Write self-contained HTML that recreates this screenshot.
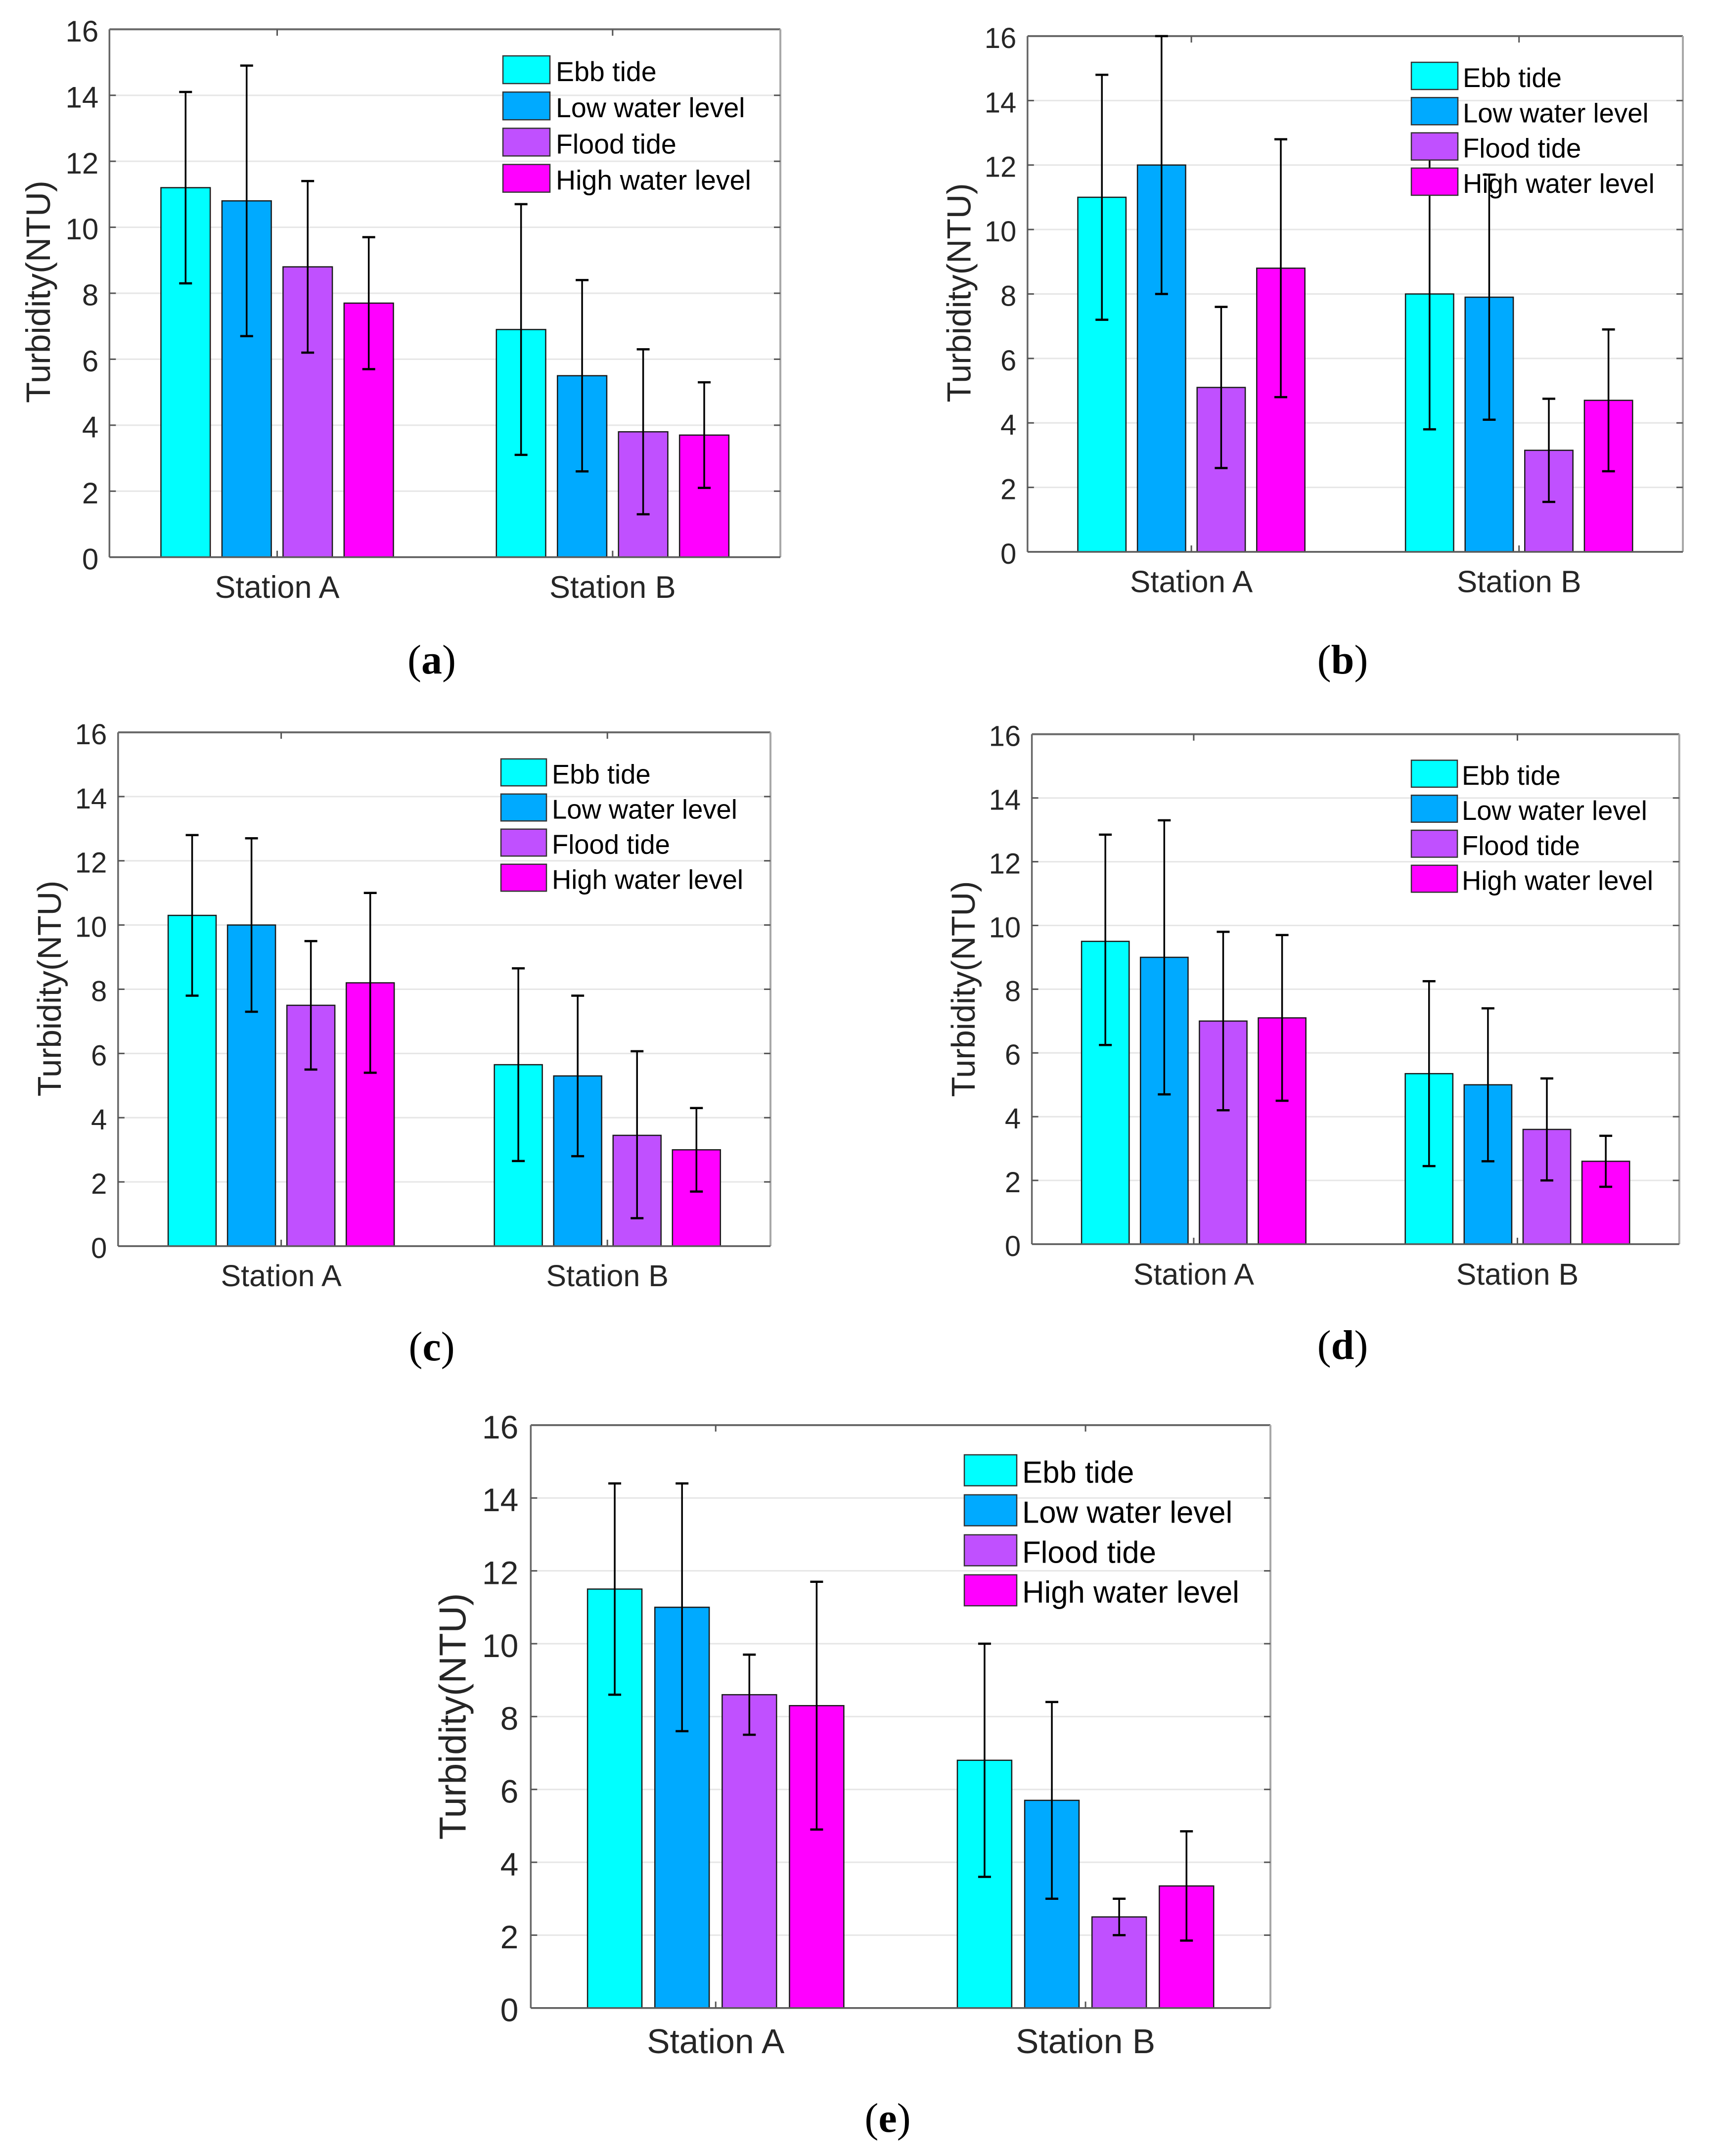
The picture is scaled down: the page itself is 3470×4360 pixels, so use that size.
<!DOCTYPE html>
<html lang="en">
<head>
<meta charset="utf-8">
<title>Turbidity by tidal phase at Station A and Station B</title>
<style>
html,body{margin:0;padding:0;background:#fff;}
#figure{display:block;width:3470px;height:4360px;background:#fff;}
text{font-family:"Liberation Sans",sans-serif;}
.cap{font-family:"Liberation Serif",serif;}
</style>
</head>
<body>
<svg id="figure" xmlns="http://www.w3.org/2000/svg" width="3470" height="4360" viewBox="0 0 3470 4360"></svg>
<script>
const categories = ['Station A', 'Station B'];
const seriesNames = ['Ebb tide', 'Low water level', 'Flood tide', 'High water level'];
const seriesColors = ['#00ffff', '#00aaff', '#c050ff', '#ff00ff'];
const yTickLabels = [0, 2, 4, 6, 8, 10, 12, 14, 16];
const yAxisTitle = 'Turbidity(NTU)';

const panelAMeans = [11.2, 10.8, 8.8, 7.7, 6.9, 5.5, 3.8, 3.7];
const panelALow = [8.3, 6.7, 6.2, 5.7, 3.1, 2.6, 1.3, 2.1];
const panelAHigh = [14.1, 14.9, 11.4, 9.7, 10.7, 8.4, 6.3, 5.3];

const panelBMeans = [11, 12, 5.1, 8.8, 8, 7.9, 3.15, 4.7];
const panelBLow = [7.2, 8, 2.6, 4.8, 3.8, 4.1, 1.55, 2.5];
const panelBHigh = [14.8, 16, 7.6, 12.8, 12.2, 11.7, 4.75, 6.9];

const panelCMeans = [10.3, 10, 7.5, 8.2, 5.65, 5.3, 3.45, 3];
const panelCLow = [7.8, 7.3, 5.5, 5.4, 2.65, 2.8, 0.87, 1.7];
const panelCHigh = [12.8, 12.7, 9.5, 11, 8.65, 7.8, 6.07, 4.3];

const panelDMeans = [9.5, 9, 7, 7.1, 5.35, 5, 3.6, 2.6];
const panelDLow = [6.25, 4.7, 4.2, 4.5, 2.45, 2.6, 2, 1.8];
const panelDHigh = [12.85, 13.3, 9.8, 9.7, 8.25, 7.4, 5.2, 3.4];

const panelEMeans = [11.5, 11, 8.6, 8.3, 6.8, 5.7, 2.5, 3.35];
const panelELow = [8.6, 7.6, 7.5, 4.9, 3.6, 3, 2, 1.85];
const panelEHigh = [14.4, 14.4, 9.7, 11.7, 10, 8.4, 3, 4.85];

const panels = [
  {id:'a', means:panelAMeans, low:panelALow, high:panelAHigh,
   left:221.3, right:1578, top:59.3, bottom:1126.7, tickFs:60, tickGap:22, catFs:63, titleFs:69, legFs:55.5,
   titleX:76, titleY:590, catY:1209,
   legX:1017, legW:95, legY:113, legH:56, legStep:73.2, legTextX:1124,
   capX:873, capY:1362},
  {id:'b', means:panelBMeans, low:panelBLow, high:panelBHigh,
   left:2077.8, right:3403, top:73, bottom:1116, tickFs:58, tickGap:22.5, catFs:62, titleFs:68, legFs:54.5,
   titleX:1938, titleY:592, catY:1197.5,
   legX:2854, legW:94, legY:126, legH:55, legStep:71.3, legTextX:2958,
   capX:2715, capY:1362},
  {id:'c', means:panelCMeans, low:panelCLow, high:panelCHigh,
   left:238.8, right:1558, top:1481, bottom:2520, tickFs:58, tickGap:22.5, catFs:61, titleFs:67, legFs:54.4,
   titleX:99, titleY:1999, catY:2601,
   legX:1013, legW:92, legY:1534.7, legH:54.5, legStep:71, legTextX:1116,
   capX:873, capY:2751},
  {id:'d', means:panelDMeans, low:panelDLow, high:panelDHigh,
   left:2086.6, right:3395.7, top:1484.8, bottom:2516, tickFs:58, tickGap:22.5, catFs:61, titleFs:67, legFs:54.4,
   titleX:1947, titleY:2000, catY:2598,
   legX:2854, legW:93, legY:1537.4, legH:54.5, legStep:70.8, legTextX:2956,
   capX:2715, capY:2748},
  {id:'e', means:panelEMeans, low:panelELow, high:panelEHigh,
   left:1073.3, right:2569, top:2882, bottom:4060.7, tickFs:66, tickGap:25, catFs:69.5, titleFs:76.5, legFs:61.7,
   titleX:914, titleY:3471, catY:4152,
   legX:1950, legW:106, legY:2942, legH:62.6, legStep:80.9, legTextX:2067,
   capX:1795, capY:4311}
];

const NS = 'http://www.w3.org/2000/svg';
const X_MIN = 0.5, X_MAX = 2.5, Y_MAX = 16;
const DODGE = 0.182, BAR_WIDTH = 0.147;

function mk(tag, attrs, parent) {
  const el = document.createElementNS(NS, tag);
  for (const k in attrs) el.setAttribute(k, attrs[k]);
  parent.appendChild(el);
  return el;
}
function xScale(p, v) { return p.left + (v - X_MIN) / (X_MAX - X_MIN) * (p.right - p.left); }
function yScale(p, v) { return p.bottom - v / Y_MAX * (p.bottom - p.top); }

const svg = document.getElementById('figure');

panels.forEach(function (p) {
  const g = mk('g', {}, svg);
  
  

  yTickLabels.forEach(function (t) {
    if (t === 0 || t === Y_MAX) return;
    const y = yScale(p, t);
    const grid = mk('line', {x1:p.left, x2:p.right, y1:y, y2:y, stroke:'#e6e6e6', 'stroke-width':3}, g);
    
    
  });

  const frameTop = mk('line', {x1:p.left, x2:p.right, y1:p.top, y2:p.top, stroke:'#6a6a6a', 'stroke-width':4}, g);
  
  
  const frameRight = mk('line', {x1:p.right, x2:p.right, y1:p.top, y2:p.bottom, stroke:'#a8a8a8', 'stroke-width':4}, g);
  
  
  const frameLeft = mk('line', {x1:p.left, x2:p.left, y1:p.top, y2:p.bottom, stroke:'#666666', 'stroke-width':3.5}, g);
  
  

  yTickLabels.forEach(function (t) {
    const y = yScale(p, t);
    if (t !== 0 && t !== Y_MAX) {
      const tl = mk('line', {x1:p.left, x2:p.left + 13, y1:y, y2:y, stroke:'#555', 'stroke-width':3}, g);
      
      
      const tr = mk('line', {x1:p.right - 13, x2:p.right, y1:y, y2:y, stroke:'#555', 'stroke-width':3}, g);
      
      
    }
    const label = mk('text', {x:p.left - p.tickGap, y:y + p.tickFs * 0.36 + 3, 'text-anchor':'end', 'font-size':p.tickFs, fill:'#262626'}, g);
    
    
    label.textContent = t;
  });

  categories.forEach(function (c, gi) {
    const x = xScale(p, gi + 1);
    const tt = mk('line', {x1:x, x2:x, y1:p.top, y2:p.top + 13, stroke:'#555', 'stroke-width':3}, g);
    
    
    const tb = mk('line', {x1:x, x2:x, y1:p.bottom - 13, y2:p.bottom, stroke:'#555', 'stroke-width':3}, g);
    
    
    const cat = mk('text', {x:x, y:p.catY, 'text-anchor':'middle', 'font-size':p.catFs, fill:'#262626'}, g);
    
    
    cat.textContent = c;
  });

  p.means.forEach(function (m, i) {
    const gi = Math.floor(i / 4), si = i % 4;
    const cx = xScale(p, gi + 1 + (si - 1.5) * DODGE);
    const hw = (xScale(p, 2) - xScale(p, 1)) * BAR_WIDTH / 2;
    const bar = mk('rect', {x:cx - hw, y:yScale(p, m), width:hw * 2, height:yScale(p, 0) - yScale(p, m), fill:seriesColors[si], stroke:'#1a1a1a', 'stroke-width':2.5}, g);
    
    
  });

  const frameBottom = mk('line', {x1:p.left, x2:p.right, y1:p.bottom, y2:p.bottom, stroke:'#5a5a5a', 'stroke-width':3.5}, g);
  
  

  p.means.forEach(function (m, i) {
    const gi = Math.floor(i / 4), si = i % 4;
    const cx = xScale(p, gi + 1 + (si - 1.5) * DODGE);
    const yLo = yScale(p, p.low[i]), yHi = yScale(p, p.high[i]);
    const stem = mk('line', {x1:cx, x2:cx, y1:yLo, y2:yHi, stroke:'#000', 'stroke-width':3.5}, g);
    
    
    const capHi = mk('line', {x1:cx - 13, x2:cx + 13, y1:yHi, y2:yHi, stroke:'#000', 'stroke-width':4.5}, g);
    
    
    const capLo = mk('line', {x1:cx - 13, x2:cx + 13, y1:yLo, y2:yLo, stroke:'#000', 'stroke-width':4.5}, g);
    
    
  });

  const title = mk('text', {x:0, y:0, transform:'translate(' + (p.titleX + p.titleFs * 0.36) + ' ' + p.titleY + ') rotate(-90)', 'text-anchor':'middle', 'font-size':p.titleFs, fill:'#262626'}, g);
  
  
  title.textContent = yAxisTitle;

  seriesNames.forEach(function (name, si) {
    const y = p.legY + si * p.legStep;
    const sw = mk('rect', {x:p.legX, y:y, width:p.legW, height:p.legH, fill:seriesColors[si], stroke:'#333', 'stroke-width':2.5}, g);
    
    
    const lt = mk('text', {x:p.legTextX, y:y + p.legH / 2 + p.legFs * 0.36 + 3, 'font-size':p.legFs, fill:'#000'}, g);
    
    
    lt.textContent = name;
  });

  const cap = mk('text', {x:p.capX, y:p.capY, 'text-anchor':'middle', 'font-size':84, fill:'#000', 'class':'cap'}, g);
  
  
  const s1 = mk('tspan', {}, cap);
  s1.textContent = '(';
  const s2 = mk('tspan', {'font-weight':'bold'}, cap);
  s2.textContent = p.id;
  const s3 = mk('tspan', {}, cap);
  s3.textContent = ')';
});
</script>
</body>
</html>
